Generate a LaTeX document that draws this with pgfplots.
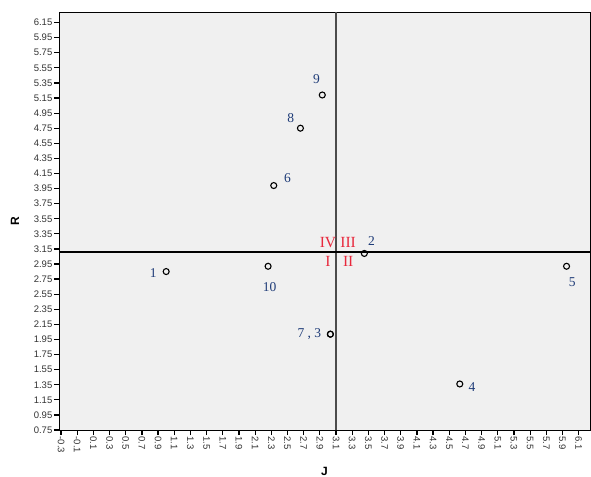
\documentclass[border=0pt]{standalone}
\usepackage{pgfplots}
\pgfplotsset{compat=1.18}
\usepackage{fontspec}
\setmainfont{Liberation Sans}
\newfontfamily\serifl{Liberation Serif}
\definecolor{bgc}{HTML}{F0F0F0}
\definecolor{lblc}{HTML}{1F3C78}
\definecolor{romc}{HTML}{E8283C}
\begin{document}
\begin{tikzpicture}[x=1bp,y=1bp]
\path[use as bounding box] (-59bp,-47bp) rectangle (532bp,430bp);
\begin{axis}[
  scale only axis, width=531bp, height=418bp,
  xmin=-0.325, xmax=6.24, ymin=0.75, ymax=6.29,
  axis background/.style={fill=bgc},
  axis line style={black, line width=0.8bp},
  tick align=outside, xtick pos=bottom, ytick pos=left,
  major tick length=5bp,
  every tick/.style={black, line width=1.2bp},
  xtick={-0.3,-0.1,0.1,0.3,0.5,0.7,0.9,1.1,1.3,1.5,1.7,1.9,2.1,2.3,2.5,2.7,2.9,3.1,3.3,3.5,3.7,3.9,4.1,4.3,4.5,4.7,4.9,5.1,5.3,5.5,5.7,5.9,6.1},
  ytick={0.75,0.95,1.15,1.35,1.55,1.75,1.95,2.15,2.35,2.55,2.75,2.95,3.15,3.35,3.55,3.75,3.95,4.15,4.35,4.55,4.75,4.95,5.15,5.35,5.55,5.75,5.95,6.15},
  xticklabel style={rotate=-90, anchor=west, font=\fontsize{9.5bp}{10bp}\selectfont, color=black!80, inner sep=1.5bp},
  yticklabel style={font=\fontsize{9.5bp}{10bp}\selectfont, color=black!80, inner sep=1.5bp},
  /pgf/number format/assume math mode=true,
  xticklabel={\pgfmathprintnumber[fixed,fixed zerofill,precision=1]{\tick}},
  yticklabel={\pgfmathprintnumber[fixed,fixed zerofill,precision=2]{\tick}},
  xlabel={\bfseries J}, ylabel={\bfseries R},
  xlabel style={font=\fontsize{12bp}{13bp}\selectfont, at={(axis description cs:0.5,0)}, anchor=north, yshift=-34bp},
  ylabel style={font=\fontsize{12bp}{13bp}\selectfont, at={(axis description cs:-0.083,0.5)}, anchor=center, rotate=0},
  clip=false,
]
\addplot[draw=black!70, line width=1.5bp, forget plot] coordinates {(3.1,0.75) (3.1,6.29)};
\addplot[draw=black, line width=1.3bp, forget plot] coordinates {(-0.325,3.11) (6.24,3.11)};
\addplot[only marks, mark=o, mark size=3bp, mark options={line width=1.1bp, draw=black}] coordinates {
 (1.00,2.85) (3.45,3.09) (3.03,2.02) (4.63,1.36) (5.95,2.92)
 (2.33,3.99) (3.03,2.02) (2.66,4.75) (2.93,5.19) (2.26,2.92)
};
\begin{scope}[every node/.style={font=\serifl\fontsize{13.5bp}{14bp}\selectfont, text=lblc, inner sep=0pt}]
\node at (axis cs:0.84,2.83) {1};
\node at (axis cs:3.54,3.25) {2};
\node at (axis cs:2.77,2.02) {7 , 3};
\node at (axis cs:4.78,1.32) {4};
\node at (axis cs:6.02,2.71) {5};
\node at (axis cs:2.50,4.09) {6};
\node at (axis cs:2.54,4.88) {8};
\node at (axis cs:2.86,5.40) {9};
\node at (axis cs:2.28,2.64) {10};
\end{scope}
\begin{scope}[every node/.style={font=\serifl\fontsize{15.5bp}{16bp}\selectfont, text=romc, inner sep=0pt}]
\node at (axis cs:3.00,3.23) {IV};
\node at (axis cs:3.25,3.23) {III};
\node at (axis cs:3.00,2.98) {I};
\node at (axis cs:3.25,2.98) {II};
\end{scope}
\end{axis}
\end{tikzpicture}
\end{document}
